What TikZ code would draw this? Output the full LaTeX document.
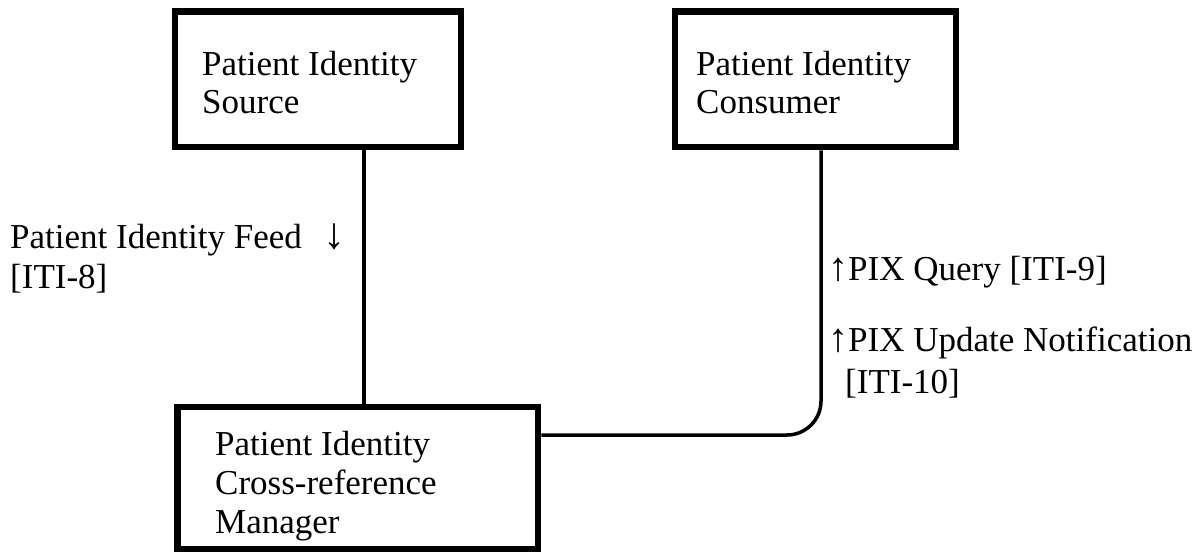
\documentclass[tikz,border=0pt]{standalone}
\usepackage{fontspec}
\setmainfont{Liberation Serif}
\begin{document}
\begin{tikzpicture}[x=1pt,y=-1pt,
  actor/.style={draw=black,line width=6.5pt,fill=white,rectangle,inner sep=0pt},
  txt/.style={anchor=base west,inner sep=0pt,align=left,
    font=\fontsize{35}{38}\selectfont},
  wire/.style={draw=black,line width=3.5pt}]
\useasboundingbox[fill=white] (0,0) rectangle (1204,554);

% actor boxes
\node[actor,minimum width=286pt,minimum height=135.5pt] (src) at (318,79.25) {};
\node[actor,minimum width=281pt,minimum height=135.5pt] (con) at (815.5,79.25) {};
\node[actor,minimum width=360.5pt,minimum height=142pt] (mgr) at (357.75,478) {};

% box captions (anchored at the baseline of the last line)
\node[txt] (srct) at (202,113) {Patient Identity\\Source};
\node[txt] (cont) at (696,113) {Patient Identity\\Consumer};
\node[txt,font=\fontsize{35}{39}\selectfont] (mgrt) at (215,533) {Patient Identity\\Cross-reference\\Manager};

% transactions
\coordinate (feedx) at (364,0);
\coordinate (bend) at (821,435);
\draw[wire] (feedx |- src.south) -- (feedx |- mgr.north);
\draw[wire,rounded corners=34pt] (bend |- con.south) -- (bend) -- (mgr.east |- bend);

% transaction labels
\node[txt,font=\fontsize{35}{40}\selectfont] (feed) at (10,288) {Patient Identity Feed\hspace{22pt}{\fontsize{44}{40}\selectfont ↓}\\{}[ITI-8]};
\node[txt] (query) at (828,280) {{\fontsize{40}{40}\selectfont ↑}PIX Query [ITI-9]};
\node[txt,font=\fontsize{35}{42}\selectfont] (notif) at (828,393) {{\fontsize{40}{40}\selectfont ↑}PIX Update Notification\\\hspace{17pt}[ITI-10]};
\end{tikzpicture}
\end{document}
